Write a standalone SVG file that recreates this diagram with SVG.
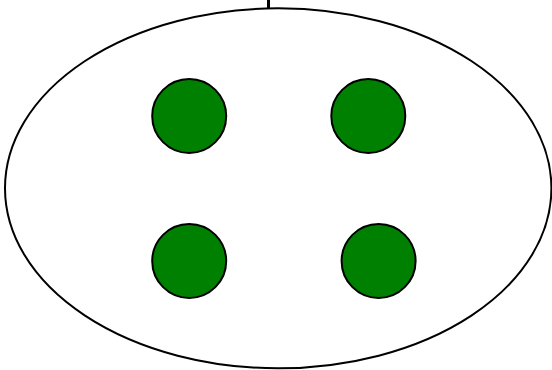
<svg xmlns="http://www.w3.org/2000/svg" width="552" height="370" viewBox="0 0 552 370">
<style>
.node{fill:#008000;stroke:#000;stroke-width:2}
.outer{fill:#fff;stroke:#000;stroke-width:2}
.conn{stroke:#000;stroke-width:3;fill:none}
</style>
<rect width="552" height="370" fill="#fff"/>
<g id="connectors">
<line class="conn" x1="268.5" y1="0" x2="268.5" y2="8"/>
</g>
<g id="container">
<ellipse class="outer" cx="278.2" cy="188.3" rx="273.2" ry="180"/>
</g>
<g id="node1"><circle class="node" cx="189.2" cy="116" r="37"/></g>
<g id="node2"><circle class="node" cx="368.3" cy="116" r="37"/></g>
<g id="node3"><circle class="node" cx="189.2" cy="261" r="37"/></g>
<g id="node4"><circle class="node" cx="378.6" cy="261" r="37"/></g>
</svg>
